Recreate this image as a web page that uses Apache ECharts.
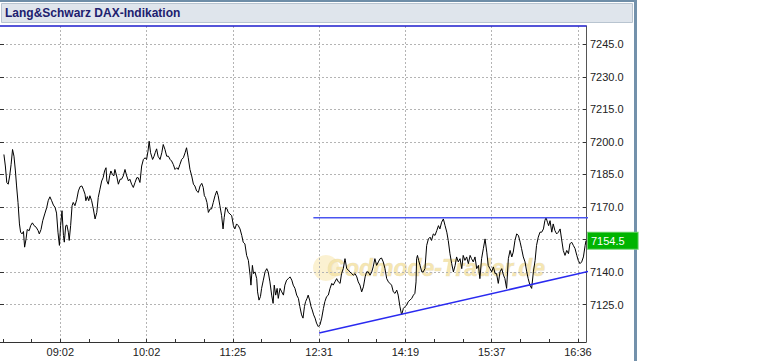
<!DOCTYPE html>
<html><head><meta charset="utf-8">
<script src="https://cdn.jsdelivr.net/npm/echarts@6/dist/echarts.min.js"></script>
<style>html,body{margin:0;padding:0;background:#fff}#c{width:770px;height:361px}</style>
</head><body><div id="c"></div>
<script>
const chartTitle = 'Lang&Schwarz DAX-Indikation';
const watermarkText = 'Godmode-Trader.de';
const xLabels = ['09:02', '10:02', '11:25', '12:31', '14:19', '15:37', '16:36'];
const xLabelPos = [30, 60, 90, 120, 150, 180, 210];
const xTickPos = [10, 20, 30, 40, 50, 60, 70, 80, 90, 100, 110, 120, 130, 140, 150, 160, 170, 180, 190, 200, 210];
const yTicks = [7125, 7140, 7155, 7170, 7185, 7200, 7215, 7230, 7245];
const lastPrice = 7154.5;
const resistance = [[118, 7165.0], [277, 7165.0]];
const support = [[120, 7111.9], [277, 7159.5]];
const dax = [
[10.4,7194.2],[10.9,7188.9],[11.4,7181.3],[11.9,7180.5],[12.4,7184.3],[12.9,7189.6],[13.4,7196.5],[13.9,7193.4],[14.4,7186.6],[14.8,7179.7],[15.3,7172.1],[15.8,7162.2],[16.2,7158.4],[16.7,7157.6],[17.2,7158.7],[17.6,7151.5],[18.1,7155.3],[18.5,7159.6],[19.2,7159.1],[19.7,7161.4],[20.3,7162.7],[20.9,7161.4],[21.6,7160.7],[22.3,7159.1],[22.7,7157.6],[23.3,7159.6],[23.9,7163.7],[24.6,7166.8],[25.3,7169.8],[25.8,7172.9],[26.4,7174.7],[27.0,7172.9],[27.6,7170.9],[28.2,7169.8],[28.7,7167.2],[29.2,7158.4],[29.7,7152.3],[30.1,7161.4],[30.6,7168.3],[31.1,7156.9],[31.4,7153.8],[31.9,7161.4],[32.3,7161.7],[32.8,7158.4],[33.1,7154.6],[33.6,7161.4],[34.1,7170.6],[34.5,7172.1],[35.1,7170.6],[35.7,7173.3],[36.3,7177.4],[36.9,7179.4],[37.5,7179.7],[38.0,7178.2],[38.6,7175.9],[38.9,7172.9],[39.4,7174.8],[39.9,7172.9],[40.3,7175.2],[40.9,7172.9],[41.5,7169.1],[42.1,7164.5],[42.7,7167.5],[43.2,7174.4],[43.8,7178.2],[44.4,7182.0],[44.9,7183.5],[45.4,7186.6],[45.9,7188.1],[46.2,7182.0],[46.7,7180.5],[47.2,7184.6],[47.6,7186.6],[48.1,7185.1],[48.6,7184.3],[49.0,7187.3],[49.6,7184.3],[50.2,7180.5],[50.8,7182.8],[51.3,7182.8],[51.9,7184.3],[52.5,7187.3],[53.1,7184.3],[53.7,7182.0],[54.2,7182.8],[54.8,7180.5],[55.4,7179.0],[56.0,7181.3],[56.6,7183.5],[57.1,7183.5],[57.7,7181.3],[58.3,7188.9],[58.9,7191.9],[59.5,7192.7],[60.0,7191.9],[60.5,7195.7],[60.9,7200.3],[61.4,7195.0],[62.1,7191.9],[62.6,7193.4],[63.0,7195.0],[63.5,7196.8],[64.0,7193.4],[64.7,7191.9],[65.3,7195.0],[65.8,7198.8],[66.4,7196.5],[67.0,7193.4],[67.6,7193.4],[68.2,7191.9],[68.7,7191.2],[69.3,7189.6],[69.9,7187.3],[70.5,7188.1],[71.0,7187.3],[71.6,7189.6],[72.2,7191.9],[72.8,7192.7],[73.4,7195.0],[73.9,7197.3],[74.5,7192.7],[75.1,7187.3],[75.7,7184.3],[76.3,7180.5],[76.8,7179.7],[77.4,7177.4],[78.0,7176.7],
[78.6,7179.7],[79.2,7180.9],[79.7,7179.0],[80.1,7175.2],[80.5,7174.4],[81.0,7172.1],[81.5,7167.5],[82.1,7169.1],[82.6,7169.1],[83.2,7172.1],[83.8,7175.2],[84.4,7177.4],[84.9,7175.2],[85.5,7170.6],[86.1,7166.0],[86.6,7159.9],[87.0,7165.2],[87.5,7169.8],[88.0,7169.1],[88.4,7167.5],[89.0,7166.8],[89.6,7166.0],[90.2,7161.4],[90.7,7159.9],[91.3,7162.2],[91.9,7161.4],[92.5,7159.9],[93.1,7156.9],[93.6,7153.8],[94.2,7153.0],[94.8,7147.7],[95.4,7145.4],[96.0,7138.6],[96.3,7134.0],[96.8,7143.1],[97.2,7139.3],[97.7,7140.1],[98.3,7137.0],[98.6,7130.9],[99.1,7127.1],[99.6,7128.7],[100.0,7132.5],[100.6,7136.3],[101.2,7140.1],[101.8,7141.6],[102.3,7140.1],[102.9,7135.5],[103.5,7129.4],[104.0,7125.6],[104.4,7134.0],[104.9,7129.4],[105.4,7132.5],[105.8,7127.9],[106.4,7132.5],[107.0,7130.9],[107.6,7129.4],[108.1,7134.0],[108.7,7136.3],[109.3,7137.0],[109.9,7137.8],[110.5,7136.3],[111.0,7134.0],[111.6,7132.5],[112.2,7129.4],[112.8,7127.9],[113.3,7124.1],[113.9,7120.3],[114.4,7118.8],[114.9,7124.1],[115.3,7126.4],[115.8,7127.9],[116.2,7129.4],[116.7,7127.1],[117.2,7124.1],[117.6,7122.6],[118.1,7120.3],[118.6,7118.8],[119.1,7116.5],[119.7,7114.9],[120.3,7115.7],[120.9,7118.8],[121.5,7123.3],[122.0,7126.4],[122.6,7128.7],[123.2,7129.4],[123.8,7132.5],[124.4,7134.8],[124.9,7134.0],[125.5,7135.5],[126.1,7137.0],[126.7,7135.5],[127.3,7134.8],[127.8,7139.3],[128.4,7141.6],[129.0,7146.2],[129.6,7141.6],[130.2,7140.9],[130.7,7140.1],[131.3,7139.3],[131.9,7138.6],[132.5,7139.3],[133.1,7137.8],[133.6,7135.5],[134.2,7134.0],[134.8,7130.9],[135.4,7133.2],[136.0,7137.8],[136.5,7140.1],[137.1,7140.1],[137.7,7138.6],[138.3,7140.1],[138.8,7142.4],[139.4,7146.2],[140.0,7143.1],[140.6,7144.7],[141.2,7146.2],[141.7,7146.5],[142.3,7144.7],[142.9,7141.6],[143.5,7137.0],[144.1,7135.5],
[145.2,7134.0],[145.8,7130.9],[146.4,7130.2],[147.0,7131.7],[147.5,7129.4],[148.1,7124.1],[148.7,7120.3],[149.3,7123.3],[149.9,7124.1],[150.4,7124.8],[151.0,7126.4],[151.6,7127.1],[152.2,7127.9],[152.8,7129.4],[153.3,7130.2],[153.7,7135.5],[153.9,7146.2],[154.2,7147.7],[154.6,7145.4],[155.1,7143.1],[155.7,7140.1],[156.2,7140.1],[156.8,7141.6],[157.4,7152.3],[158.0,7155.3],[158.6,7156.1],[159.1,7154.6],[159.7,7157.6],[160.3,7156.9],[160.9,7159.1],[161.5,7161.4],[162.0,7159.9],[162.6,7163.0],[163.2,7164.5],[163.8,7161.4],[164.4,7158.4],[164.9,7154.6],[165.5,7148.5],[166.1,7143.9],[166.7,7140.1],[167.3,7143.1],[167.8,7147.0],[168.4,7144.7],[169.0,7146.2],[169.6,7141.6],[170.1,7147.7],[170.7,7145.4],[171.3,7147.0],[171.9,7143.9],[172.5,7147.7],[173.0,7146.2],[173.6,7144.7],[174.2,7147.0],[174.8,7141.6],[175.4,7143.1],[175.9,7137.0],[176.5,7146.2],[177.1,7150.8],[177.7,7155.3],[178.3,7149.2],[178.8,7143.1],[179.4,7141.6],[180.0,7140.1],[180.6,7142.4],[181.2,7139.3],[181.7,7139.3],[182.3,7134.8],[182.9,7140.1],[183.5,7141.6],[184.1,7138.6],[184.6,7137.0],[185.2,7132.5],[185.8,7146.2],[186.4,7150.0],[187.0,7147.0],[187.5,7149.2],[188.1,7154.6],[188.7,7157.6],[189.3,7156.9],[189.9,7153.8],[190.4,7150.8],[191.0,7147.0],[191.6,7144.7],[192.2,7140.1],[192.7,7137.0],[193.3,7134.0],[193.9,7132.5],[194.5,7140.1],[195.1,7145.4],[195.6,7152.3],[196.2,7156.1],[196.8,7158.4],[197.4,7158.4],[198.0,7159.9],[198.5,7163.7],[198.9,7165.2],[199.4,7163.0],[199.8,7161.4],[200.3,7163.7],[200.9,7158.4],[201.4,7162.2],[202.0,7159.1],[202.6,7157.6],[203.2,7158.4],[203.8,7159.9],[204.3,7155.3],[204.9,7150.0],[205.5,7147.7],[206.1,7150.0],[206.7,7148.5],[207.2,7153.0],[207.8,7153.8],[208.4,7152.3],[209.0,7150.8],[209.6,7147.7],[210.1,7145.4],[210.7,7143.9],[211.3,7144.7],[211.9,7147.0],[212.5,7152.3],[212.8,7154.5]
];

const X_MIN = 0, X_MAX = 212.8, Y_MIN = 7107.8, Y_MAX = 7253.4;
const FONT = '"Liberation Sans", Arial, sans-serif';
const gridDot = { color: '#b4b4b4', width: 1, type: [2, 2] };

const chart = echarts.init(document.getElementById('c'), null, { renderer: 'svg' });
chart.setOption({
  animation: false,
  backgroundColor: '#ffffff',
  textStyle: { fontFamily: FONT },
  grid: { left: -26, right: 184, top: 26, bottom: 19, containLabel: false, outerBoundsMode: 'none' },
  graphic: [
    { type: 'rect', z: 1, silent: true, shape: { x: 0, y: 0, width: 637, height: 2 }, style: { fill: '#6f8ea8' } },
    { type: 'rect', z: 1, silent: true, shape: { x: 634, y: 0, width: 3, height: 361 }, style: { fill: '#7391ab' } },
    { type: 'rect', z: 1, silent: true, shape: { x: 1.5, y: 3.5, width: 631, height: 19 }, style: { fill: '#dfe5ec', stroke: '#b8c4d0', lineWidth: 1 } },
    { type: 'text', z: 2, silent: true, x: 5, y: 13, style: { text: chartTitle, fill: '#20206e', font: 'bold 12px ' + FONT, verticalAlign: 'middle' } },
    { type: 'circle', z: 0, silent: true, shape: { cx: 326, cy: 268, r: 13 }, style: { fill: '#fbf0cc', opacity: 0.9 } },
    { type: 'text', z: 0, silent: true, x: 327, y: 268, style: { text: watermarkText, fill: '#f4e3a8', stroke: '#e4dccb', lineWidth: 0.6, opacity: 0.9, font: 'italic bold 23px ' + FONT, verticalAlign: 'middle' } }
  ],
  xAxis: [
    {
      type: 'value', position: 'bottom', min: X_MIN, max: X_MAX,
      axisLine: { show: true, lineStyle: { color: '#333333', width: 1 } },
      axisTick: { show: true, inside: true, length: 3, customValues: xTickPos, lineStyle: { color: '#333333' } },
      axisLabel: {
        show: true, customValues: xLabelPos, margin: 4, color: '#222222', fontSize: 11, fontFamily: FONT,
        formatter: v => xLabels[xLabelPos.indexOf(v)] || ''
      },
      splitLine: { show: false }
    },
    {
      type: 'value', position: 'top', min: X_MIN, max: X_MAX, interval: 30,
      axisLine: { show: true, onZero: false, lineStyle: { color: '#1c1ccc', width: 1.5 } },
      axisTick: { show: false },
      axisLabel: { show: false },
      splitLine: { show: true, lineStyle: gridDot }
    }
  ],
  yAxis: [
    {
      type: 'value', position: 'right', min: Y_MIN, max: Y_MAX,
      axisLine: { show: true, onZero: false, lineStyle: { color: '#555555', width: 1 } },
      axisTick: { show: true, inside: true, length: 3, customValues: yTicks, lineStyle: { color: '#333333' } },
      axisLabel: { show: true, customValues: yTicks, margin: 4, color: '#222222', fontSize: 11, fontFamily: FONT, formatter: v => v.toFixed(1) },
      splitLine: { show: true, lineStyle: gridDot }
    },
    {
      type: 'value', position: 'left', min: Y_MIN, max: Y_MAX, offset: -26,
      axisLine: { show: false },
      axisTick: { show: true, inside: true, length: 4, customValues: yTicks, lineStyle: { color: '#333333' } },
      axisLabel: { show: false },
      splitLine: { show: false }
    }
  ],
  series: [
    {
      name: 'DAX', type: 'line', xAxisIndex: 0, yAxisIndex: 0, data: dax,
      symbol: 'none', lineStyle: { color: '#000000', width: 1 }, z: 3,
      markLine: {
        silent: true, symbol: 'none', animation: false, z: 10,
        lineStyle: { color: 'rgba(255,255,255,0)', width: 1, type: 'solid' },
        emphasis: { disabled: true },
        data: [{ yAxis: lastPrice }],
        label: {
          show: true, position: 'end', distance: 2, formatter: lastPrice.toFixed(1),
          color: '#ffffff', fontSize: 11, fontFamily: FONT,
          backgroundColor: '#00b400', borderColor: '#6fd46f', borderWidth: 1,
          padding: [3, 13, 2, 3]
        }
      }
    },
    {
      name: 'Widerstand', type: 'line', xAxisIndex: 0, yAxisIndex: 0, data: resistance, clip: false,
      symbol: 'none', lineStyle: { color: '#4a55f0', width: 1.5 }, z: 4
    },
    {
      name: 'Unterstuetzung', type: 'line', xAxisIndex: 0, yAxisIndex: 0, data: support, clip: false,
      symbol: 'none', lineStyle: { color: '#2a2af0', width: 1.5 }, z: 4
    }
  ]
});
</script>
</body></html>
